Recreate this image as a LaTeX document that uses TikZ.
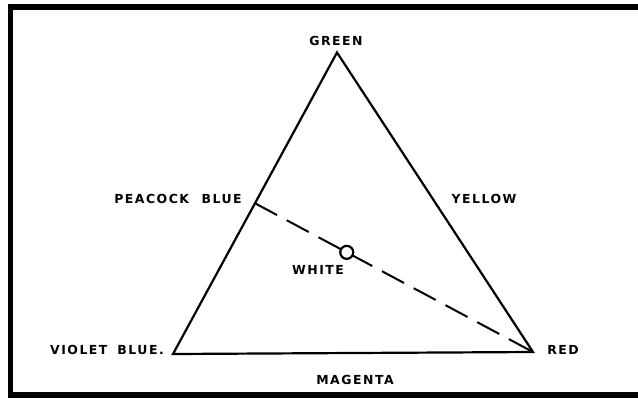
\documentclass[tikz,border=0pt]{standalone}
\usepackage{fontspec}
\usepackage{tikz}
\usetikzlibrary{calc,positioning}

\newfontfamily\lblfont[LetterSpace=12]{DejaVu Sans}

\begin{document}
\begin{tikzpicture}[x=1bp, y=-1bp, line join=miter]
    % Styles
    \tikzstyle{frame} = [draw, line width=5.5bp]
    \tikzstyle{side} = [draw, line width=2.2bp]
    \tikzstyle{mix} = [draw, line width=2bp, dash pattern=on 25bp off 11bp]
    \tikzstyle{lbl} = [inner sep=0pt, font=\lblfont\bfseries\fontsize{12.5}{14}\selectfont]
    \tikzstyle{spot} = [circle, draw, fill=white, line width=2.2bp, minimum size=13bp, inner sep=0pt]

    \useasboundingbox (0,0) rectangle (638,398);

    % Frame
    \path [frame] (638,7) -- (10.5,7) -- (10.5,395) -- (638,395);

    % Corners
    \coordinate (green) at (337,52.5);
    \coordinate (violet) at (173,354);
    \coordinate (red) at (533,352);
    \coordinate (peacock) at ($(violet)!0.5!(green)$);

    % Paths
    \path [side] (violet) -- (green) -- (red) -- cycle;
    \path [mix] (peacock) -- (red);
    \node [spot] (white) at ($(peacock)!0.33!(red)$) {};

    % Nodes
    \node [lbl] (greenlbl) at (336,41) {GREEN};
    \node [lbl] (peacocklbl) at (178,199) {PEACOCK\hspace{1em}BLUE};
    \node [lbl] (yellowlbl) at (484,199) {YELLOW};
    \node [lbl] (whitelbl) at (318,270) {WHITE};
    \node [lbl] (violetlbl) at (107,350) {VIOLET\hspace{0.8em}BLUE.};
    \node [lbl] (redlbl) at (563,350) {RED};
    \node [lbl] (magentalbl) at (355,380) {MAGENTA};
\end{tikzpicture}
\end{document}
